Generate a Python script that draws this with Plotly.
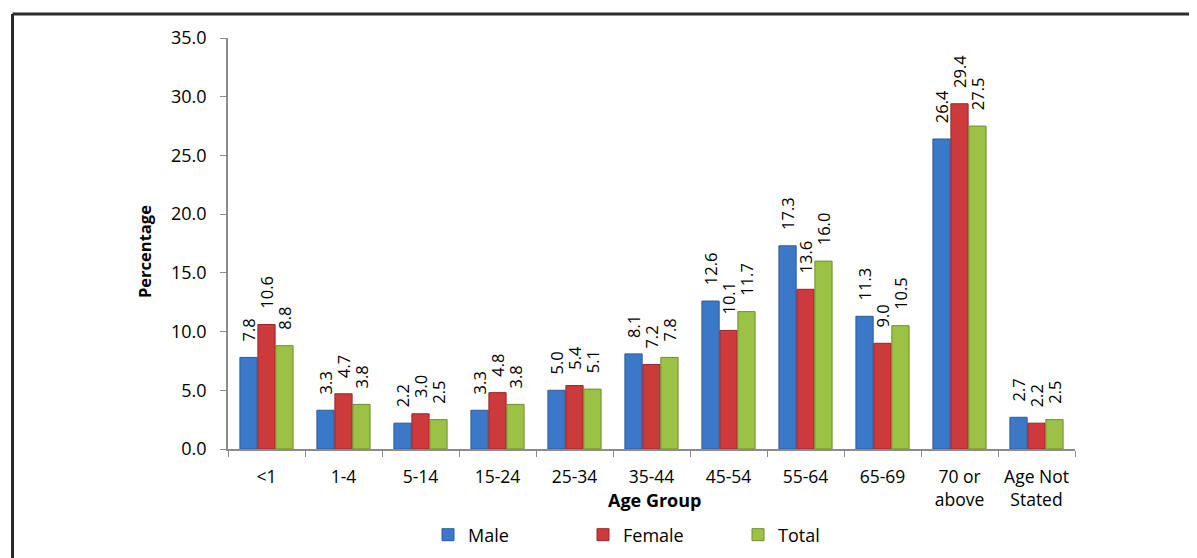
import plotly.graph_objects as go

categories = ["<1", "1-4", "5-14", "15-24", "25-34", "35-44", "45-54", "55-64",
              "65-69", "70 or<br>above", "Age Not<br>Stated"]
male = [7.8, 3.3, 2.2, 3.3, 5.0, 8.1, 12.6, 17.3, 11.3, 26.4, 2.7]
female = [10.6, 4.7, 3.0, 4.8, 5.4, 7.2, 10.1, 13.6, 9.0, 29.4, 2.2]
total = [8.8, 3.8, 2.5, 3.8, 5.1, 7.8, 11.7, 16.0, 10.5, 27.5, 2.5]

series = [("Male", male, "#3C78C8", "#2A5A9E"),
          ("Female", female, "#CC3A3B", "#982628"),
          ("Total", total, "#9CC245", "#6F8E2C")]

FONT = "Open Sans"
NB = "\u00a0"

fig = go.Figure()
for name, vals, col, edge in series:
    fig.add_trace(go.Bar(
        name=name, x=categories, y=vals,
        marker=dict(color=col, line=dict(color=edge, width=1)),
        texttemplate=NB * 3 + "%{y:.1f}", textposition="outside", textangle=-90,
        constraintext="none", cliponaxis=False,
        textfont=dict(family=FONT, size=16.5, color="#000000"),
    ))

# page has an 8px body margin; work in figure coordinates (page - 8)
OFF = 8
W, H = 1197 - OFF, 558 - OFF
L, T = 228 - OFF, 38 - OFF
R = W - (1075 - OFF)
B = H - (449 - OFF)
pw, ph = W - L - R, H - T - B

def px_x(page_x):
    return (page_x - OFF - L) / pw

def px_y(page_y):
    return (H - B - (page_y - OFF)) / ph

fx = px_x(12.5)
fy = px_y(14)

fig.update_layout(
    width=W, height=H,
    margin=dict(l=L, r=R, t=T, b=B, autoexpand=False),
    paper_bgcolor="white", plot_bgcolor="white",
    barmode="group", bargap=0.3, bargroupgap=0.04,
    font=dict(family=FONT, size=18, color="#000000"),
    showlegend=True,
    legend=dict(orientation="h", x=px_x(428), xanchor="left",
                y=px_y(535), yanchor="middle",
                entrywidth=110, font=dict(family=FONT, size=18),
                itemwidth=30),
    xaxis=dict(showline=True, linecolor="#8C8C8C", linewidth=1.5,
               ticks="outside", ticklen=6, tickcolor="#8C8C8C",
               tickson="boundaries", ticklabelstandoff=11,
               tickfont=dict(family=FONT, size=17.5), showgrid=False),
    yaxis=dict(range=[0, 35], dtick=5, tickformat=".1f",
               showline=True, linecolor="#8C8C8C", linewidth=1.5,
               ticks="outside", ticklen=6, tickcolor="#8C8C8C",
               ticklabelstandoff=10,
               tickfont=dict(family=FONT, size=18), showgrid=False,
               zeroline=False),
    shapes=[
        dict(type="line", xref="paper", yref="paper",
             x0=fx, x1=fx, y0=fy, y1=-0.5,
             line=dict(color="#2B2B2B", width=3)),
        dict(type="line", xref="paper", yref="paper",
             x0=fx, x1=1.3, y0=fy, y1=fy,
             line=dict(color="#2B2B2B", width=3)),
    ],
    annotations=[
        dict(text="<b>Age Group</b>", xref="paper", yref="paper",
             x=px_x(654), y=px_y(500),
             xanchor="center", yanchor="middle", showarrow=False,
             font=dict(family=FONT, size=18)),
        dict(text="<b>Percentage</b>", xref="paper", yref="paper",
             x=px_x(144), y=px_y(252), textangle=-90,
             xanchor="center", yanchor="middle", showarrow=False,
             font=dict(family=FONT, size=16.5)),
    ],
)

fig.write_html("out.html")
